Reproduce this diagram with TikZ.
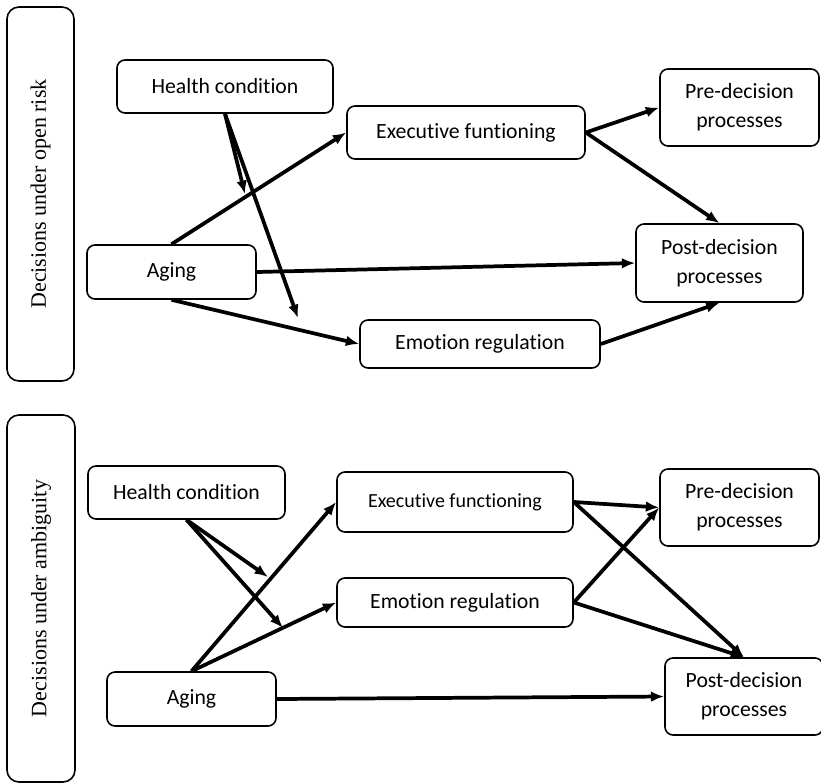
\documentclass[tikz,border=0pt]{standalone}
\usepackage{fontspec}
\setmainfont[Ligatures=NoCommon]{Carlito}
\newfontfamily\sidefont{Liberation Serif}
\usetikzlibrary{arrows.meta}

\begin{document}
\begin{tikzpicture}[x=0.75pt, y=-0.75pt, font=\fontsize{16.3}{21.75}\selectfont,
    box/.style={draw, rounded corners=6pt, line width=1.2pt, align=center, inner sep=0pt},
    side/.style={draw, rounded corners=9pt, line width=1.2pt, rotate=90,
      font=\sidefont\fontsize{16.5}{18}\selectfont},
    link/.style={line width=2.8pt, -{Latex[length=10pt,width=8pt]}}]
        \useasboundingbox (0,0) rectangle (821,783);
        % decisions under open risk
        \node[side, minimum width={374*0.75pt}, minimum height={67*0.75pt}] (side1) at (40.5,194) {Decisions under open risk};
        \node[box, minimum width={216*0.75pt}, minimum height={53*0.75pt}] (hc1) at (225,86.5) {Health condition};
        \node[box, minimum width={238*0.75pt}, minimum height={53*0.75pt}] (ex1) at (466,132.5) {Executive funtioning};
        \node[box, minimum width={159*0.75pt}, minimum height={77*0.75pt}] (pre1) at (739.5,107.5) {Pre-decision\\processes};
        \node[box, minimum width={169*0.75pt}, minimum height={54*0.75pt}] (ag1) at (171.5,272) {Aging};
        \node[box, minimum width={167*0.75pt}, minimum height={78*0.75pt}] (post1) at (719.5,263) {Post-decision\\processes};
        \node[box, minimum width={240*0.75pt}, minimum height={48*0.75pt}] (em1) at (480,344) {Emotion regulation};
        \coordinate (h1a) at (245,194);
        \coordinate (h1b) at (298,318);
        \foreach \a/\b in {hc1.south/h1a, hc1.south/h1b, ag1.north/ex1.west,
          ag1.east/post1.west, ag1.south/em1.west, ex1.east/pre1.west,
          ex1.east/post1.north, em1.east/post1.south}{
          \draw[link] (\a) -- (\b);
        }
        % decisions under ambiguity
        \node[side, minimum width={367*0.75pt}, minimum height={68*0.75pt}] (side2) at (41,598.5) {Decisions under ambiguity};
        \node[box, minimum width={197*0.75pt}, minimum height={53*0.75pt}] (hc2) at (186.5,492.5) {Health condition};
        \node[box, minimum width={236*0.75pt}, minimum height={60*0.75pt}, font=\fontsize{15}{18}\selectfont] (ex2) at (455,502) {Executive functioning};
        \node[box, minimum width={236*0.75pt}, minimum height={49*0.75pt}] (em2) at (455,602.5) {Emotion regulation};
        \node[box, minimum width={169*0.75pt}, minimum height={54*0.75pt}] (ag2) at (191.5,699) {Aging};
        \node[box, minimum width={159*0.75pt}, minimum height={77*0.75pt}] (pre2) at (739.5,507.5) {Pre-decision\\processes};
        \node[box, minimum width={158*0.75pt}, minimum height={77*0.75pt}] (post2) at (744,696.5) {Post-decision\\processes};
        \coordinate (h2a) at (268,577);
        \coordinate (h2b) at (283,628);
        \foreach \a/\b in {hc2.south/h2a, hc2.south/h2b, ag2.north/ex2.west,
          ag2.north/em2.west, ag2.east/post2.west, ex2.east/pre2.west,
          ex2.east/post2.north, em2.east/pre2.west, em2.east/post2.north}{
          \draw[link] (\a) -- (\b);
        }
\end{tikzpicture}
\end{document}
